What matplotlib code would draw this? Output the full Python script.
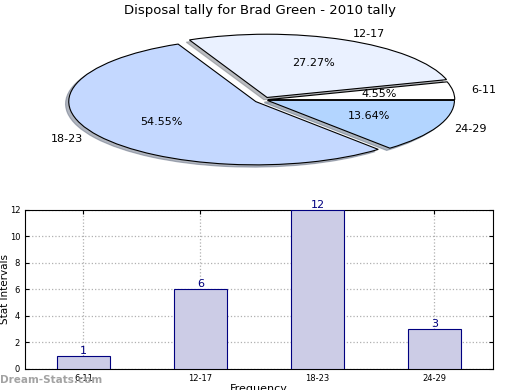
import matplotlib
matplotlib.use('Agg')
import matplotlib.pyplot as plt

# data
groups = ['6-11', '12-17', '18-23', '24-29']
counts = [1, 6, 12, 3]
pie_colors = ['#ffffff', '#eaf1ff', '#c4d8ff', '#b3d5ff']
explode = [0.02, 0.04, 0.05, 0.02]

fig = plt.figure(figsize=(5.2, 3.9), dpi=100)

# pie (squashed, not equal aspect)
ax1 = fig.add_axes([0.044, 0.535, 0.927, 0.418])
wedges, texts, autotexts = ax1.pie(counts, labels=groups, colors=pie_colors, explode=explode,
                                   autopct='%.2f%%', startangle=0, radius=0.97,
                                   shadow={'ox': -0.012, 'oy': -0.025, 'shade': 0.5},
                                   wedgeprops={'edgecolor': 'black', 'linewidth': 0.8},
                                   textprops={'fontsize': 8})
ax1.set_aspect('auto')
ax1.set_xlim(-1.25, 1.25)
ax1.set_ylim(-1.25, 1.25)
fig.text(0.5, 0.974, 'Disposal tally for Brad Green - 2010 tally', ha='center', va='center', fontsize=9.5)

# bar chart
ax2 = fig.add_axes([0.048, 0.054, 0.9, 0.408])
x = range(len(groups))
ax2.bar(x, counts, width=0.45, color='#ccccе6'.replace('е', 'e'), edgecolor='#000080', linewidth=0.8, zorder=3)
for xi, c in zip(x, counts):
    ax2.text(xi, c, str(c), ha='center', va='bottom', color='#000080', fontsize=8, zorder=4)
ax2.set_xlim(-0.5, 3.5)
ax2.set_ylim(0, 12)
ax2.set_yticks(range(0, 13, 2))
ax2.set_xticks(list(x))
ax2.set_xticklabels(groups)
ax2.tick_params(labelsize=6, direction='in', top=True, right=True, length=3)
ax2.grid(True, linestyle=':', color='#b0b0b0', linewidth=0.9)
ax2.set_ylabel('Stat Intervals', fontsize=7.5, labelpad=0)
ax2.set_xlabel('Frequency', fontsize=8, labelpad=1)

fig.text(0.0, 0.026, 'Dream-Stats.com', fontsize=7.5, color='#999999', fontweight='bold', va='center', alpha=0.9)

fig.savefig('out.png', dpi=100)
